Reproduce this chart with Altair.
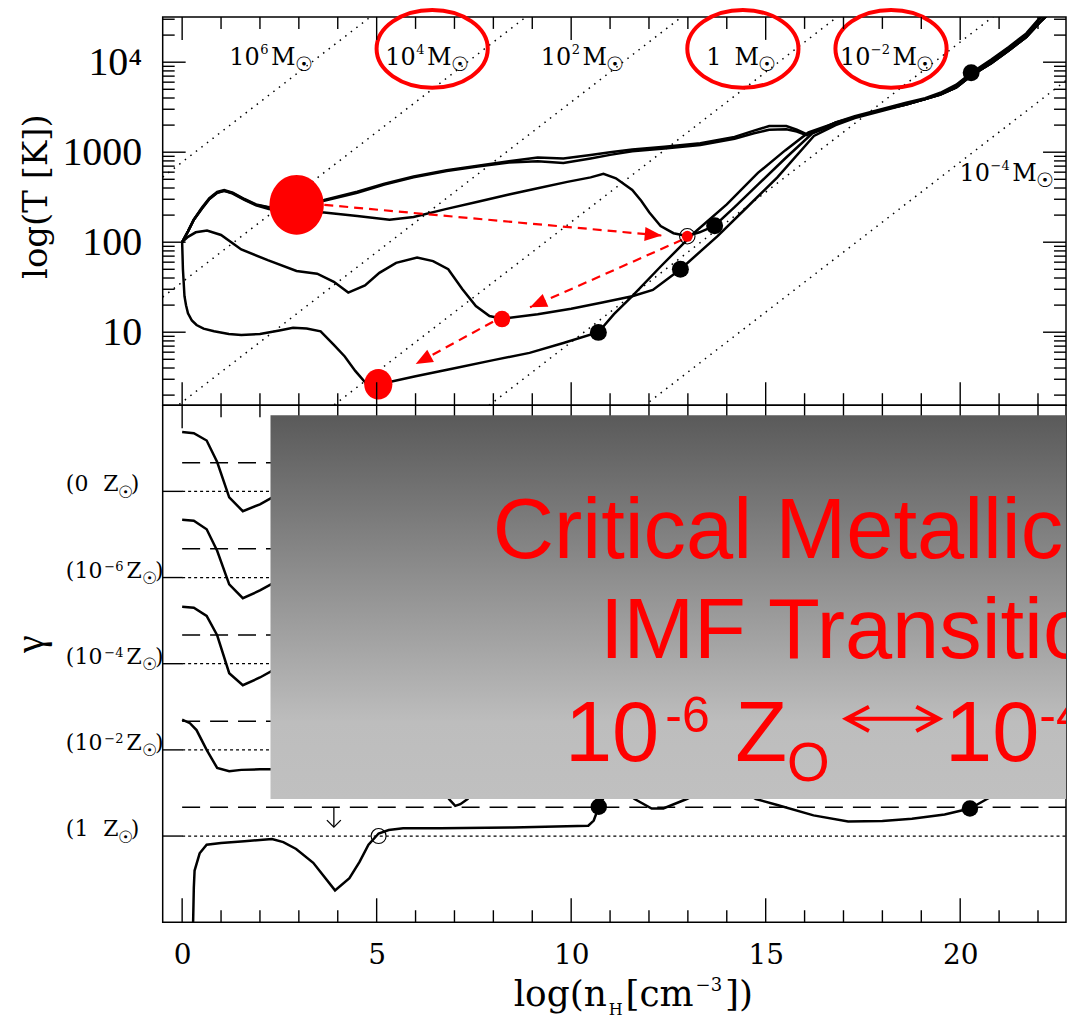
import math
import altair as alt
import pandas as pd

# ------------------------------------------------------------------
# panel geometry
# ------------------------------------------------------------------
W = 905
TOP_H = 389
BOT_H = 518
X_MIN, X_MAX = -0.5, 22.72
T_MIN, T_MAX = 0.189, 4.503      # log10 T range of the upper panel
G_MIN, G_MAX = 0.0, 6.0          # stacked gamma range of the lower panel
PXU_X = W / (X_MAX - X_MIN)
PXU_T = TOP_H / (T_MAX - T_MIN)
PXU_G = BOT_H / (G_MAX - G_MIN)

RED = "#ff0000"
INK = "#000000"
SUN = "\u2609"

# ------------------------------------------------------------------
# upper panel: thermal tracks, x = log n_H, y = log T
# ------------------------------------------------------------------
Z0_X = [0.0, 0.15, 0.3, 0.5, 0.7, 0.9, 1.08, 1.3, 1.6, 1.9, 2.23, 2.6, 2.93, 3.65, 4.5, 5.2,
        5.95, 6.8, 7.6, 8.4, 9.14, 9.8, 10.5, 11.0, 11.57, 12.4, 13.32, 14.2, 14.7, 15.09,
        15.53, 15.8, 16.05, 16.4, 16.8, 17.29, 18.0, 18.61, 19.1, 19.49, 19.9, 20.28, 20.8,
        21.25, 21.7, 22.04, 22.4]
Z0_T = [2.0, 2.12, 2.25, 2.38, 2.49, 2.56, 2.58, 2.55, 2.48, 2.42, 2.39, 2.39, 2.42, 2.47, 2.56,
        2.65, 2.73, 2.80, 2.85, 2.90, 2.94, 2.93, 2.97, 3.0, 3.03, 3.06, 3.10, 3.17, 3.24, 3.29,
        3.29, 3.25, 3.20, 3.25, 3.33, 3.40, 3.48, 3.55, 3.60, 3.66, 3.75, 3.88, 4.03, 4.17, 4.32,
        4.49, 4.64]
Z6_T = [2.0, 2.12, 2.25, 2.37, 2.48, 2.55, 2.57, 2.545, 2.475, 2.415, 2.385, 2.385, 2.41, 2.46,
        2.55, 2.64, 2.72, 2.79, 2.84, 2.885, 2.90, 2.88, 2.93, 2.97, 3.01, 3.04, 3.08, 3.15, 3.21,
        3.25, 3.255, 3.23, 3.19, 3.25, 3.33, 3.39, 3.47, 3.54, 3.59, 3.65, 3.74, 3.87, 4.02, 4.16,
        4.31, 4.48, 4.63]
Z4_X = [0.0, 0.15, 0.3, 0.5, 0.7, 0.9, 1.08, 1.3, 1.6, 1.9, 2.23, 2.6, 2.93, 3.65, 4.5, 5.33,
        5.95, 6.8, 7.6, 8.4, 9.14, 9.9, 10.5, 10.83, 11.15, 11.57, 11.8, 12.01, 12.3, 12.63,
        12.98, 13.3, 13.68, 14.2, 14.8, 15.5, 16.2, 16.8, 17.29, 18.0, 18.61, 19.1, 19.49, 19.9,
        20.28, 20.8, 21.25, 21.7, 22.04, 22.4]
Z4_T = [2.0, 2.12, 2.25, 2.37, 2.48, 2.55, 2.57, 2.54, 2.47, 2.41, 2.37, 2.35, 2.34, 2.33, 2.29,
        2.25, 2.28, 2.37, 2.45, 2.53, 2.60, 2.67, 2.72, 2.76, 2.71, 2.58, 2.46, 2.33, 2.18, 2.10,
        2.07, 2.11, 2.18, 2.39, 2.64, 2.93, 3.21, 3.31, 3.39, 3.47, 3.53, 3.59, 3.64, 3.72, 3.85,
        3.99, 4.13, 4.28, 4.44, 4.59]
Z2_X = [0.0, 0.15, 0.35, 0.64, 1.0, 1.52, 2.2, 2.94, 3.47, 3.9, 4.27, 4.7, 5.07, 5.5, 6.04, 6.45,
        6.84, 7.2, 7.55, 7.9, 8.22, 9.14, 10.0, 10.8, 11.57, 12.1, 12.81, 13.77, 14.5, 15.3,
        16.24, 16.8, 17.29, 18.0, 18.61, 19.1, 19.49, 19.9, 20.28, 20.8, 21.25, 21.7, 22.04, 22.4]
Z2_T = [2.0, 2.06, 2.11, 2.13, 2.08, 1.92, 1.80, 1.68, 1.65, 1.56, 1.44, 1.52, 1.66, 1.77, 1.83,
        1.79, 1.70, 1.48, 1.29, 1.18, 1.15, 1.20, 1.26, 1.33, 1.40, 1.47, 1.70, 2.07, 2.38, 2.72,
        3.18, 3.30, 3.38, 3.46, 3.53, 3.59, 3.64, 3.72, 3.85, 3.99, 4.13, 4.28, 4.44, 4.59]
Z1_X = [0.0, 0.02, 0.06, 0.1, 0.15, 0.25, 0.37, 0.55, 0.82, 1.2, 1.52, 2.0, 2.5, 2.85, 3.2, 3.56,
        3.9, 4.18, 4.45, 4.71, 5.04, 6.0, 7.0, 8.0, 8.93, 9.8, 10.7, 11.1, 11.57, 12.3, 13.15,
        14.0, 14.8, 15.5, 16.1, 16.7, 17.29, 18.0, 18.61, 19.1, 19.49, 19.9, 20.28, 20.8, 21.25,
        21.7, 22.04, 22.4]
Z1_T = [2.0, 1.70, 1.40, 1.30, 1.21, 1.13, 1.08, 1.04, 1.01, 0.98, 0.97, 0.98, 1.02, 1.05, 1.04,
        1.01, 0.86, 0.73, 0.57, 0.44, 0.42, 0.51, 0.60, 0.69, 0.77, 0.88, 1.0, 1.20, 1.40, 1.73,
        2.10, 2.42, 2.77, 3.02, 3.22, 3.31, 3.39, 3.47, 3.53, 3.59, 3.64, 3.72, 3.85, 3.99, 4.13,
        4.28, 4.44, 4.59]
TRACKS = [("0", Z0_X, Z0_T), ("-6", Z0_X, Z6_T), ("-4", Z4_X, Z4_T),
          ("-2", Z2_X, Z2_T), ("1", Z1_X, Z1_T)]

# optically thick points
DOT_X = [10.699, 12.808, 13.688, 20.282]
DOT_T = [0.998, 1.700, 2.182, 3.882]

# highlighted fragmentation points
HILITE_X = [2.943, 5.042, 8.223, 12.985]
HILITE_T = [2.415, 0.422, 1.146, 2.066]

# dashed arrows between highlighted points
ARROW_X0 = [3.654, 12.854, 7.992]
ARROW_T0 = [2.415, 2.027, 1.117]
ARROW_X1 = [12.328, 8.942, 6.004]
ARROW_T1 = [2.074, 1.276, 0.647]

# constant Jeans-mass lines (log M / Msun); log T of the 1 Msun line at log n_H = 0
JEANS_LOGM = [6, 4, 2, 0, -2, -4]
JEANS_T0 = -1.11

# Jeans mass labels
MASS_EXP = ["6", "4", "2", "", "\u22122", "\u22124"]
MASS_X = [1.211, 5.221, 9.216, 13.47, 16.908, 19.985]
MASS_T = [3.974, 3.974, 3.974, 3.974, 3.974, 2.681]
RING_X = [6.427, 14.414, 18.222]
RING_T = [4.148, 4.148, 4.148]

# ------------------------------------------------------------------
# lower panel: gamma, each metallicity shifted by one unit
# ------------------------------------------------------------------
G_TAGS = ["0", "\u22126", "\u22124", "\u22122", "1"]
G_OFFSET = [4, 3, 2, 1, 0]
G_ISO = 4.0 / 3.0

GA_X = [0.0, 0.3, 0.63, 0.9, 1.21, 1.56, 2.0, 2.4]
G0_G = [1.69, 1.675, 1.59, 1.34, 0.93, 0.77, 0.85, 0.95]
G6_G = [1.67, 1.66, 1.56, 1.31, 0.92, 0.76, 0.85, 0.95]
G4_G = [1.66, 1.65, 1.555, 1.33, 0.89, 0.75, 0.84, 0.94]
G2_X = [0.0, 0.2, 0.37, 0.63, 0.9, 1.21, 1.52, 2.0, 2.4]
G2_G = [1.35, 1.31, 1.23, 1.0, 0.79, 0.753, 0.768, 0.775, 0.776]
G2B_X = [6.6, 6.86, 7.02, 7.15, 7.34, 7.6]
G2B_G = [0.75, 0.43, 0.35, 0.37, 0.43, 0.75]
G1_X = [0.28, 0.30, 0.32, 0.45, 0.63, 1.0, 1.6, 2.31, 2.6, 2.93, 3.37, 3.93, 4.3, 4.56, 4.79,
        5.05, 5.31, 5.68, 6.64, 8.5, 10.44, 10.58, 10.71, 10.9, 11.3, 11.63, 12.07, 12.37,
        12.97, 13.5, 14.3, 14.75, 15.3, 16.23, 17.12, 18.0, 18.76, 19.6, 20.25, 20.69, 21.2,
        22.72]
G1_G = [-0.05, 0.40, 0.60, 0.80, 0.90, 0.92, 0.94, 0.965, 0.93, 0.85, 0.69, 0.37, 0.51, 0.70,
        0.90, 1.03, 1.07, 1.09, 1.09, 1.10, 1.12, 1.18, 1.34, 1.50, 1.55, 1.43, 1.32, 1.32, 1.43,
        1.55, 1.55, 1.43, 1.36, 1.24, 1.17, 1.175, 1.20, 1.25, 1.32, 1.43, 1.55, 1.55]
G_SEGMENTS = [("0", 4, GA_X, G0_G), ("-6", 3, GA_X, G6_G), ("-4", 2, GA_X, G4_G),
              ("-2a", 1, G2_X, G2_G), ("-2b", 1, G2B_X, G2B_G), ("1", 0, G1_X, G1_G)]

G_DOT_X = [10.71, 20.25]
G_DOT_G = [1.34, 1.32]
G_RING_X = [5.05]
G_RING_G = [1.0]
G_DROP_X = [3.9]
G_DROP_TO = [1.104]

# overlay panel and its caption
BOX_X = [2.271, X_MAX]
BOX_Y = [1.430, 5.884]
CAPTION = ["Critical Metallicity", "IMF Transition"]
CAPTION_X = [7.985, 10.738]
CAPTION_Y = [4.230, 3.065]
RANGE_X, RANGE_Y = 9.840, 1.867

# tick positions
X_TICKS = list(range(0, 23))
T_MAJOR = [1, 2, 3, 4]
T_MINOR = [n + math.log10(k) for n in range(0, 5) for k in range(2, 10)
           if T_MIN < n + math.log10(k) < T_MAX]
T_LABELS = {1: "10", 2: "100", 3: "1000", 4: "10\u2074"}

# ------------------------------------------------------------------
# helpers
# ------------------------------------------------------------------
SERIF_W = {**{d: 0.636 for d in "0123456789"}, "(": 0.39, ")": 0.39, "Z": 0.672, "M": 0.97,
           "\u2212": 0.838, SUN: 0.75, "l": 0.32, "o": 0.602, "g": 0.635, "n": 0.644,
           "H": 0.856, "[": 0.39, "]": 0.39, "c": 0.56, "m": 0.948}
SANS_W = {**{d: 0.556 for d in "0123456789"}, "-": 0.333, "Z": 0.611, "O": 0.778}


def set_pieces(pieces, x0, y0, pxu_y, widths):
    """Lay out (text, size, rise_px, gap_px) pieces left to right from an anchor."""
    rows, cur = [], 0.0
    for text, size, rise, gap in pieces:
        cur += gap
        rows.append(dict(x=x0 + cur / PXU_X, y=y0 + rise / pxu_y, text=text, size=size))
        cur += sum(widths.get(c, 0.6) for c in text) * size
    return rows, cur


def ellipse(rx, ry):
    return f"M{-rx},0A{rx},{ry},0,1,0,{rx},0A{rx},{ry},0,1,0,{-rx},0Z"


XS = alt.Scale(domain=[X_MIN, X_MAX], nice=False, zero=False)
TS = alt.Scale(domain=[T_MIN, T_MAX], nice=False, zero=False)
GS = alt.Scale(domain=[G_MIN, G_MAX], nice=False, zero=False)

label_expr = " : ".join(f"datum.value == {k} ? '{v}'" for k, v in T_LABELS.items()) + " : ''"
AX_T = alt.Axis(values=T_MAJOR, labelExpr=label_expr, ticks=False, domain=False, grid=False,
                labelFont="Liberation Serif", labelFontSize=40, labelPadding=21,
                labelColor=INK, labelOverlap=False, labelFlush=False,
                title="log(T [K])", titleFont="DejaVu Serif", titleFontSize=34,
                titleFontWeight="normal", titleColor=INK, titleX=-126.5, titleY=179.5,
                titleAlign="center", titleBaseline="middle")
AX_GX = alt.Axis(values=[0, 5, 10, 15, 20], format="d", ticks=False, domain=False, grid=False,
                 labelFont="DejaVu Serif", labelFontSize=28, labelPadding=19, labelColor=INK,
                 labelFlush=False, labelOverlap=False, title=None)
AX_G = alt.Axis(labels=False, ticks=False, domain=False, grid=False, title="\u03b3",
                titleFont="Liberation Serif", titleFontSize=40, titleFontWeight="normal",
                titleColor=INK, titleX=-132, titleY=239, titleAlign="center",
                titleBaseline="middle")


def XT(f):
    return alt.X(f, type="quantitative", scale=XS, axis=None)


def YT(f):
    return alt.Y(f, type="quantitative", scale=TS, axis=AX_T)


def XB(f):
    return alt.X(f, type="quantitative", scale=XS, axis=AX_GX)


def YB(f):
    return alt.Y(f, type="quantitative", scale=GS, axis=AX_G)


def x_ticks(vals, length, panel_h, edge, X):
    if edge == "bottom":
        y, y2 = alt.value(panel_h), alt.value(panel_h - length)
    else:
        y, y2 = alt.value(0), alt.value(length)
    return alt.Chart(pd.DataFrame({"v": vals})).mark_rule(color=INK, strokeWidth=1.4).encode(
        x=X("v"), y=y, y2=y2)


def y_ticks(vals, length, side, Y):
    if side == "left":
        x, x2 = alt.value(0), alt.value(length)
    else:
        x, x2 = alt.value(W), alt.value(W - length)
    return alt.Chart(pd.DataFrame({"v": vals})).mark_rule(color=INK, strokeWidth=1.4).encode(
        y=Y("v"), x=x, x2=x2)


def text_layer(rows, X, Y, font, color, clip=False):
    return alt.Chart(pd.DataFrame(rows)).mark_text(
        align="left", baseline="alphabetic", font=font, color=color, clip=clip).encode(
        x=X("x"), y=Y("y"), text="text:N", size=alt.Size("size:Q", scale=None))


# ------------------------------------------------------------------
# upper panel
# ------------------------------------------------------------------
anchor = alt.Chart(pd.DataFrame({"a": [0]})).mark_rule(opacity=0).encode(
    x=alt.value(-162), x2=alt.value(-161), y=alt.value(-14), y2=alt.value(-13))

jeans_rows = []
for m in JEANS_LOGM:
    for xe in (X_MIN, X_MAX):
        jeans_rows.append({"m": m, "x": xe, "y": xe / 3.0 + 2.0 * m / 3.0 + JEANS_T0})
jeans = alt.Chart(pd.DataFrame(jeans_rows)).mark_line(
    color=INK, strokeWidth=1.5, strokeDash=[1.5, 5.5], clip=True).encode(
    x=XT("x"), y=YT("y"), detail="m:N")

track_rows = []
for name, xs, ts in TRACKS:
    for i, (xv, tv) in enumerate(zip(xs, ts)):
        track_rows.append({"s": name, "i": i, "x": xv, "y": tv})
tracks = alt.Chart(pd.DataFrame(track_rows)).mark_line(
    color=INK, strokeWidth=2.5, clip=True).encode(
    x=XT("x"), y=YT("y"), detail="s:N", order="i:Q")

dots = alt.Chart(pd.DataFrame({"x": DOT_X, "y": DOT_T})).mark_point(
    shape="circle", filled=True, color=INK, opacity=1, size=289).encode(x=XT("x"), y=YT("y"))

arrow_rows, head_rows = [], []
for k, (x0, t0, x1, t1) in enumerate(zip(ARROW_X0, ARROW_T0, ARROW_X1, ARROW_T1)):
    arrow_rows += [{"id": k, "i": 0, "x": x0, "y": t0}, {"id": k, "i": 1, "x": x1, "y": t1}]
    ang = math.degrees(math.atan2(-(t1 - t0) * PXU_T, (x1 - x0) * PXU_X)) % 360
    head_rows.append({"x": x1, "y": t1, "ang": ang})
arrows = alt.Chart(pd.DataFrame(arrow_rows)).mark_line(
    color=RED, strokeWidth=2.2, strokeDash=[9, 6]).encode(
    x=XT("x"), y=YT("y"), detail="id:N", order="i:Q")
heads = alt.layer(*[
    alt.Chart(pd.DataFrame([h])).mark_point(
        shape="M0,0L-1,-0.41L-1,0.41Z", filled=True, color=RED, opacity=1, size=1156,
        angle=h["ang"]).encode(x=XT("x"), y=YT("y"))
    for h in head_rows])

HILITE_STYLE = [(ellipse(0.907, 1), 3600), (ellipse(0.92, 1), 942), ("circle", 272), ("circle", 121)]
hilites = alt.layer(*[
    alt.Chart(pd.DataFrame({"x": [xv], "y": [tv]})).mark_point(
        shape=shp, filled=True, color=RED, opacity=1, size=sz).encode(x=XT("x"), y=YT("y"))
    for xv, tv, (shp, sz) in zip(HILITE_X, HILITE_T, HILITE_STYLE)])
hilite_ring = alt.Chart(pd.DataFrame({"x": HILITE_X[-1:], "y": HILITE_T[-1:]})).mark_point(
    shape="circle", filled=False, color=INK, opacity=1, size=240, strokeWidth=1.1).encode(
    x=XT("x"), y=YT("y"))

mass_rows = []
for exp, xv, tv in zip(MASS_EXP, MASS_X, MASS_T):
    if exp:
        pieces = [("10", 24, 0, 0), (exp, 13, 10.5, 0.5), ("M", 24, 0, 2.5), (SUN, 20, -6, 0.5)]
    else:
        pieces = [("1", 24, 0, 0), ("M", 24, 0, 13.1), (SUN, 20, -6, 0.5)]
    rows, _ = set_pieces(pieces, xv, tv, PXU_T, SERIF_W)
    mass_rows += rows
mass_text = text_layer(mass_rows, XT, YT, "DejaVu Serif", INK)

rings = alt.Chart(pd.DataFrame({"x": RING_X, "y": RING_T})).mark_point(
    shape=ellipse(1, 0.698), filled=False, color=RED, opacity=1, size=12410,
    strokeWidth=4).encode(x=XT("x"), y=YT("y"))

T_MINOR_X = [v for v in X_TICKS if v % 5]
T_MAJOR_X = [v for v in X_TICKS if v % 5 == 0]
top_ticks = [
    x_ticks(T_MAJOR_X, 23, TOP_H, "bottom", XT), x_ticks(T_MINOR_X, 12, TOP_H, "bottom", XT),
    x_ticks(T_MAJOR_X, 23, TOP_H, "top", XT), x_ticks(T_MINOR_X, 12, TOP_H, "top", XT),
    y_ticks(T_MAJOR, 23, "left", YT), y_ticks(T_MINOR, 12, "left", YT),
    y_ticks(T_MAJOR, 23, "right", YT), y_ticks(T_MINOR, 12, "right", YT),
]

top = alt.layer(anchor, jeans, tracks, dots, arrows, heads, hilites, hilite_ring,
                mass_text, rings, *top_ticks).properties(width=W, height=TOP_H)

# ------------------------------------------------------------------
# lower panel
# ------------------------------------------------------------------
base_df = pd.DataFrame({"x0": [0.0] * 5, "x1": [X_MAX] * 5,
                        "yb": [o + 1.0 for o in G_OFFSET], "yi": [o + G_ISO for o in G_OFFSET]})
baselines = alt.Chart(base_df).mark_rule(color=INK, strokeWidth=1.3, strokeDash=[3, 3]).encode(
    x=XB("x0"), x2=alt.X2("x1"), y=YB("yb"))
isolines = alt.Chart(base_df).mark_rule(color=INK, strokeWidth=1.5, strokeDash=[18, 10]).encode(
    x=XB("x0"), x2=alt.X2("x1"), y=YB("yi"))
g_left_ticks = y_ticks([o + 1.0 for o in G_OFFSET], 20, "left", YB)

g_rows = []
for name, off, xs, gs in G_SEGMENTS:
    for i, (xv, gv) in enumerate(zip(xs, gs)):
        g_rows.append({"s": name, "i": i, "x": xv, "y": gv + off})
g_curves = alt.Chart(pd.DataFrame(g_rows)).mark_line(
    color=INK, strokeWidth=2.5, clip=True).encode(
    x=XB("x"), y=YB("y"), detail="s:N", order="i:Q")

g_dots = alt.Chart(pd.DataFrame({"x": G_DOT_X, "y": G_DOT_G})).mark_point(
    shape="circle", filled=True, color=INK, opacity=1, size=272).encode(x=XB("x"), y=YB("y"))
g_ring = alt.Chart(pd.DataFrame({"x": G_RING_X, "y": G_RING_G})).mark_point(
    shape="circle", filled=False, color=INK, opacity=1, size=225, strokeWidth=1.1).encode(
    x=XB("x"), y=YB("y"))
drop_df = pd.DataFrame({"x": G_DROP_X, "y0": [G_ISO], "y1": G_DROP_TO})
g_drop = alt.Chart(drop_df).mark_rule(color=INK, strokeWidth=1.3).encode(
    x=XB("x"), y=YB("y0"), y2=alt.Y2("y1"))
g_drop_head = alt.Chart(drop_df).mark_point(
    shape="M-1,-1L0,0L1,-1", filled=False, color=INK, opacity=1, size=196,
    strokeWidth=1.3).encode(x=XB("x"), y=YB("y1"))

bot_ticks = [
    x_ticks(T_MAJOR_X, 24, BOT_H, "bottom", XB), x_ticks(T_MINOR_X, 12, BOT_H, "bottom", XB),
    x_ticks(T_MAJOR_X, 23, BOT_H, "top", XB), x_ticks(T_MINOR_X, 12, BOT_H, "top", XB),
]

shade = alt.Gradient(
    gradient="linear",
    stops=[alt.GradientStop(color="#5a5a5a", offset=0),
           alt.GradientStop(color="#bdbdbd", offset=0.8),
           alt.GradientStop(color="#c0c0c0", offset=1)],
    x1=0, x2=0, y1=0, y2=1)
box = alt.Chart(pd.DataFrame({"x0": [BOX_X[0]], "x1": [BOX_X[1]],
                              "y0": [BOX_Y[1]], "y1": [BOX_Y[0]]})).mark_rect(
    fill=shade, opacity=1, clip=True).encode(
    x=XB("x0"), x2=alt.X2("x1"), y=YB("y0"), y2=alt.Y2("y1"))

caption_rows = [{"x": xv, "y": yv, "text": t, "size": 85}
                for t, xv, yv in zip(CAPTION, CAPTION_X, CAPTION_Y)]
part1, end1 = set_pieces([("10", 85, 0, 0), ("-6", 50, 29, 6), ("Z", 85, 0, 25.6),
                          ("O", 55, -19.4, 0)], RANGE_X, RANGE_Y, PXU_G, SANS_W)
arrow_gap, arrow_len = 16.5, 93.0
arrow_cx = RANGE_X + (end1 + arrow_gap + arrow_len / 2) / PXU_X
part2, _ = set_pieces([("10", 85, 0, 0), ("-4", 50, 29, 0), ("Z", 85, 0, 25.6),
                       ("O", 55, -19.4, 0)],
                      RANGE_X + (end1 + arrow_gap + arrow_len + 6) / PXU_X, RANGE_Y, PXU_G, SANS_W)
caption = text_layer(caption_rows + part1 + part2, XB, YB, "Liberation Sans", RED, clip=True)
caption_arrow = alt.Chart(pd.DataFrame({"x": [arrow_cx], "y": [RANGE_Y + 42.6 / PXU_G]})).mark_point(
    shape="M-1,0L1,0M-0.51,-0.26L-1,0L-0.51,0.26M0.51,-0.26L1,0L0.51,0.26",
    filled=False, color=RED, opacity=1, size=arrow_len ** 2, strokeWidth=4, clip=True).encode(
    x=XB("x"), y=YB("y"))

metal_rows = []
for tag, off in zip(G_TAGS, G_OFFSET):
    if tag in ("0", "1"):
        pieces = [("(" + tag, 22, 0, 0), ("Z", 22, 0, 15), (SUN, 17, -6.5, -0.5), (")", 22, 0, 0.5)]
    else:
        pieces = [("(10", 22, 0, 0), (tag, 13, 7, 2), ("Z", 22, 0, 3), (SUN, 17, -6.5, 0.5),
                  (")", 22, 0, 0.5)]
    rows, _ = set_pieces(pieces, -2.989, off + 1.0, PXU_G, SERIF_W)
    metal_rows += rows
xtitle_rows, _ = set_pieces([("log(n", 36, 0, 0), ("H", 16, -9, 2), ("[cm", 36, 0, 3),
                             ("\u22123", 18, 15, 2), ("])", 36, 0, 3)],
                            8.521, -0.973, PXU_G, SERIF_W)
serif_text = text_layer(metal_rows + xtitle_rows, XB, YB, "DejaVu Serif", INK)

bottom = alt.layer(baselines, isolines, g_left_ticks, g_curves, g_dots, g_ring, g_drop,
                   g_drop_head, *bot_ticks, box, caption, caption_arrow,
                   serif_text).properties(width=W, height=BOT_H)

chart = alt.vconcat(top, bottom, spacing=0, bounds="flush").properties(
    padding=0, background="white").configure_view(stroke=INK, strokeWidth=1.5)

chart.save("out.html", embed_options={"renderer": "svg", "actions": False})
